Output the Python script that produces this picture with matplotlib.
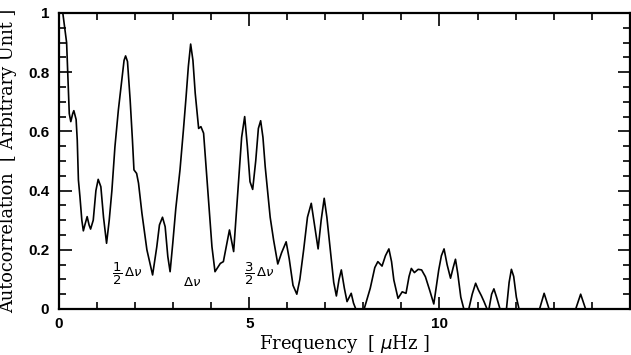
import matplotlib
matplotlib.use('Agg')
import matplotlib.pyplot as plt
from matplotlib.ticker import MultipleLocator

plt.rcParams['mathtext.fontset'] = 'dejavusans'

# Curva de autocorrelacion (frecuencia en uHz, valor)
freq = [0.10, 0.20, 0.245, 0.27, 0.31, 0.36, 0.39, 0.45, 0.48, 0.51, 0.55, 0.60,
        0.64, 0.68, 0.74, 0.79, 0.83, 0.90, 0.97, 1.03, 1.10, 1.17, 1.25, 1.32,
        1.39, 1.47, 1.56, 1.65, 1.71, 1.75, 1.80, 1.87, 1.93, 1.97, 2.04, 2.09,
        2.18, 2.31, 2.46, 2.57, 2.64, 2.72, 2.79, 2.86, 2.92, 2.99, 3.07, 3.18,
        3.27, 3.34, 3.40, 3.46, 3.52, 3.58, 3.67, 3.73, 3.80, 3.89, 4.02, 4.10,
        4.17, 4.24, 4.32, 4.37, 4.48, 4.59, 4.69, 4.80, 4.88, 4.95, 5.02, 5.09,
        5.17, 5.24, 5.30, 5.36, 5.42, 5.55, 5.64, 5.75, 5.85, 5.97, 6.05, 6.15,
        6.25, 6.33, 6.43, 6.53, 6.63, 6.72, 6.81, 6.89, 6.97, 7.04, 7.13, 7.22,
        7.29, 7.36, 7.42, 7.50, 7.57, 7.68, 7.74, 7.80, 8.02, 8.18, 8.30, 8.38,
        8.49, 8.58, 8.67, 8.74, 8.80, 8.91, 9.02, 9.12, 9.20, 9.26, 9.34, 9.44,
        9.53, 9.63, 9.75, 9.85, 9.92, 9.98, 10.05, 10.12, 10.20, 10.29, 10.36,
        10.42, 10.48, 10.56, 10.64, 10.77, 10.86, 10.95, 11.02, 11.10, 11.17,
        11.25, 11.30, 11.37, 11.43, 11.50, 11.59, 11.76, 11.83, 11.89, 11.95,
        12.02, 12.09, 12.63, 12.75, 12.88, 13.58, 13.71, 13.84, 15.0]
autocorr = [1.00, 0.90, 0.75, 0.66, 0.633, 0.66, 0.67, 0.64, 0.57, 0.436, 0.38, 0.30,
            0.264, 0.284, 0.312, 0.284, 0.27, 0.30, 0.40, 0.438, 0.413, 0.31, 0.222, 0.30,
            0.40, 0.548, 0.672, 0.774, 0.84, 0.855, 0.836, 0.706, 0.571, 0.47, 0.458, 0.425,
            0.323, 0.20, 0.115, 0.21, 0.284, 0.31, 0.278, 0.177, 0.126, 0.222, 0.34, 0.47,
            0.605, 0.717, 0.82, 0.895, 0.84, 0.729, 0.61, 0.616, 0.594, 0.436, 0.21, 0.126,
            0.14, 0.154, 0.16, 0.194, 0.267, 0.194, 0.38, 0.58, 0.65, 0.55, 0.43, 0.404,
            0.50, 0.61, 0.636, 0.58, 0.48, 0.31, 0.233, 0.152, 0.19, 0.227, 0.17, 0.08,
            0.05, 0.10, 0.20, 0.31, 0.357, 0.28, 0.203, 0.30, 0.374, 0.31, 0.20, 0.09,
            0.044, 0.10, 0.132, 0.07, 0.025, 0.053, 0.02, 0.0, 0.0, 0.07, 0.14, 0.16,
            0.145, 0.18, 0.203, 0.16, 0.098, 0.036, 0.058, 0.053, 0.11, 0.137, 0.123, 0.134,
            0.132, 0.109, 0.06, 0.017, 0.08, 0.132, 0.18, 0.203, 0.15, 0.104, 0.14,
            0.168, 0.12, 0.04, 0.0, 0.0, 0.05, 0.087, 0.065, 0.045, 0.025,
            0.0, 0.0, 0.05, 0.068, 0.04, 0.0, 0.0, 0.09, 0.134, 0.11,
            0.04, 0.0, 0.0, 0.053, 0.0, 0.0, 0.05, 0.0, 0.0]

# Etiquetas de los picos
etiquetas = [r'$\dfrac{1}{2}\,\Delta\nu$', r'$\Delta\nu$', r'$\dfrac{3}{2}\,\Delta\nu$']
etiqueta_x = [1.78, 3.49, 5.26]
etiqueta_y = [0.12, 0.09, 0.12]

fig = plt.figure(figsize=(6.31, 3.55), dpi=100)
ax = fig.add_axes([0.0935, 0.1296, 0.9045, 0.8338])

ax.plot(freq, autocorr, color='black', linewidth=1.2)

for txt, x, y in zip(etiquetas, etiqueta_x, etiqueta_y):
    ax.text(x, y, txt, fontsize=9.5, ha='center', va='center')

ax.set_xlim(0, 15)
ax.set_ylim(0, 1)
ax.set_xticks([0, 5, 10])
ax.xaxis.set_minor_locator(MultipleLocator(1))
ax.set_yticks([0, 0.2, 0.4, 0.6, 0.8, 1])
ax.set_yticklabels(['0', '0.2', '0.4', '0.6', '0.8', '1'])
ax.yaxis.set_minor_locator(MultipleLocator(0.05))

ax.tick_params(which='both', direction='in', top=True, right=True, width=1.2)
ax.tick_params(which='major', length=9, pad=7)
ax.tick_params(axis='x', which='major', pad=6)
ax.tick_params(which='minor', length=5)
for lab in ax.get_xticklabels() + ax.get_yticklabels():
    lab.set_fontfamily('Liberation Sans')
    lab.set_fontsize(11)
    lab.set_fontweight('bold')
for sp in ax.spines.values():
    sp.set_linewidth(1.6)

ax.set_xlabel(r'Frequency  [ $\mathit{\mu}$Hz ]', fontfamily='DejaVu Serif',
              fontsize=13)
ax.set_ylabel('Autocorrelation  [ Arbitrary Unit ]', fontfamily='DejaVu Serif',
              fontsize=12.8)
ax.xaxis.set_label_coords(0.5, -0.082)
ax.yaxis.set_label_coords(-0.074, 0.5)

fig.savefig('out.png', dpi=100)
